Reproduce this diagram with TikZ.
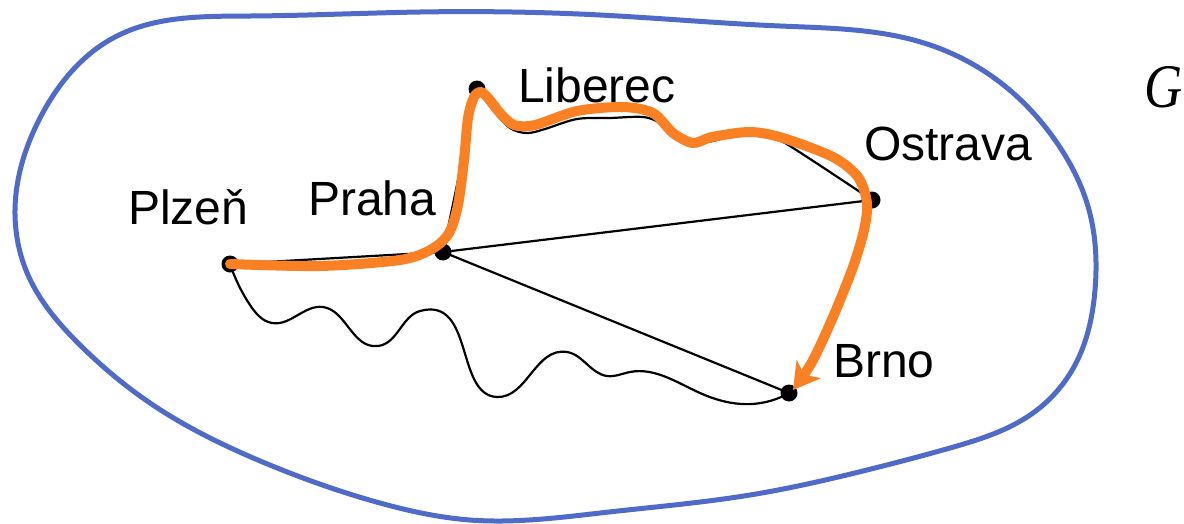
\documentclass[tikz,border=0pt]{standalone}
\usepackage{fontspec}
\setmainfont{Liberation Sans}
\newfontfamily\graphfont{Liberation Serif}
\usetikzlibrary{arrows.meta,hobby}
\definecolor{setblue}{RGB}{80,106,200}
\definecolor{routeorange}{RGB}{250,128,36}
\tikzset{
  city/.style={circle, fill=black, inner sep=0pt, minimum size=17pt},
  cityname/.style={anchor=base west, inner sep=0pt, font=\fontsize{48}{58}\selectfont},
  road/.style={draw=black, line width=2.2pt},
  border/.style={draw=setblue, line width=5pt},
  route/.style={draw=routeorange, line width=10pt, line cap=round, line join=round,
    -{Stealth[length=26pt,width=30pt,inset=7pt]}}
}
\begin{document}
\begin{tikzpicture}[x=1pt,y=-1pt]
\useasboundingbox (0,0) rectangle (1184,523);

% outline of the whole graph
\draw[border, use Hobby shortcut, closed=true]
  (15,210) .. (40,118) .. (115,37) .. (250,16) .. (420,12) .. (600,15)
  .. (780,26) .. (924,43) .. (1001,83) .. (1055,140) .. (1089,210)
  .. (1095,290) .. (1075,365) .. (1033,413) .. (950,448) .. (867,470)
  .. (750,495) .. (609,512) .. (470,520) .. (380,503) .. (265,463)
  .. (150,403) .. (80,345) .. (28,275);

% cities
\node[city] (plz) at (230,264) {};
\node[city] (pra) at (443,252) {};
\node[city] (lib) at (477,89) {};
\node[city] (ost) at (872,200) {};
\node[city] (bno) at (789,393) {};
\coordinate (tip) at (793,390);

% roads
\draw[road] (plz.center) -- (pra.center);
\draw[road] (pra.center) -- (lib.center);
\draw[road] (pra.center) -- (ost.center);
\draw[road] (pra.center) -- (bno.center);
\draw[road, use Hobby shortcut]
  (plz.center) .. (250,305) .. (272,323) .. (323,307) .. (378,346)
  .. (420,311) .. (497,397) .. (567,352) .. (607,376) .. (630,372)
  .. (700,393) .. (752,404) .. (bno.center);
\draw[road] plot[smooth, tension=0.55] coordinates {
  (lib.center) (493,110) (510,128) (527,133) (545,129) (577,119) (610,118)
  (643,117) (660,123) (675,135) (692,143) (708,142) (740,135) (765,137)
  (785,143) (ost.center)};

% route Plzeň -> Brno
\draw[route] plot[smooth, tension=0.5] coordinates {
  (plz.center) (320,266) (400,260) (432,249) (449,233) (458,205) (464,160)
  (468,118) (474,97) (481,92) (489,99) (500,113) (514,125) (535,125)
  (577,111) (623,107) (653,113) (673,133) (693,143) (712,137) (750,132)
  (783,138) (833,157) (858,177) (867,203) (864,230) (853,267) (833,317)
  (812,362) (tip)};

% labels
\node[cityname] (plzname) at (128,224) {Plzeň};
\node[cityname] (praname) at (308,215) {Praha};
\node[cityname] (libname) at (518,102) {Liberec};
\node[cityname] (ostname) at (864,160) {Ostrava};
\node[cityname] (bnoname) at (833,377) {Brno};
\node[anchor=base west, inner sep=0pt, font=\fontsize{62}{72}\selectfont] (gname)
  at (1144,107) {\scalebox{0.85}[1]{\graphfont\itshape G}};
\end{tikzpicture}
\end{document}
